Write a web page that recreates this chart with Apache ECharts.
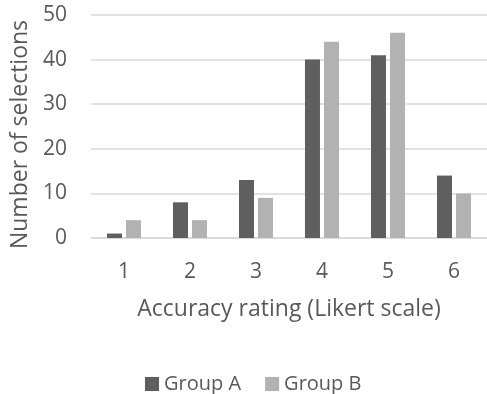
<!DOCTYPE html>
<html><head><meta charset="utf-8">
<script src="https://cdn.jsdelivr.net/npm/echarts@6/dist/echarts.min.js"></script>
<style>html,body{margin:0;padding:0;background:#fff}#c{width:487px;height:394px}</style>
</head><body><div id="c"></div>
<script>
const categories = ['1','2','3','4','5','6'];
const groupA = [1, 8, 13, 40, 41, 14];
const groupB = [4, 4, 9, 44, 46, 10];
const yTicks = {min: 0, max: 50, interval: 10};

const chart = echarts.init(document.getElementById('c'));
const font = 'Open Sans';
chart.setOption({
  animation: false,
  textStyle: {fontFamily: font},
  grid: {left: 91, right: -4, top: 15, bottom: 156, containLabel: false},
  legend: {
    data: ['Group A', 'Group B'],
    left: 140, top: 369,
    icon: 'rect', itemWidth: 14, itemHeight: 14, itemGap: 24,
    textStyle: {fontFamily: font, fontSize: 20, color: '#595959'}
  },
  xAxis: {
    type: 'category', data: categories,
    axisLine: {lineStyle: {color: '#d9d9d9', width: 1.5}},
    axisTick: {show: false},
    axisLabel: {fontFamily: font, fontSize: 21, color: '#595959', margin: 24},
    name: 'Accuracy rating (Likert scale)', nameLocation: 'middle', nameGap: 60,
    nameTextStyle: {fontFamily: font, fontSize: 23, color: '#595959'}
  },
  yAxis: {
    type: 'value', min: yTicks.min, max: yTicks.max, interval: yTicks.interval,
    axisLine: {show: false}, axisTick: {show: false},
    splitLine: {lineStyle: {color: '#d9d9d9', width: 1.5}},
    axisLabel: {fontFamily: font, fontSize: 21, color: '#595959', margin: 24},
    name: 'Number of selections', nameLocation: 'middle', nameGap: 59, nameRotate: 90,
    nameTextStyle: {fontFamily: font, fontSize: 23, color: '#595959', padding: [0, 16, 0, 0]}
  },
  series: [
    {name: 'Group A', type: 'bar', data: groupA, barWidth: 15, barGap: '27%',
     itemStyle: {color: '#5f5f5f'}},
    {name: 'Group B', type: 'bar', data: groupB, barWidth: 15,
     itemStyle: {color: '#b2b2b2'}}
  ]
});
</script></body></html>
